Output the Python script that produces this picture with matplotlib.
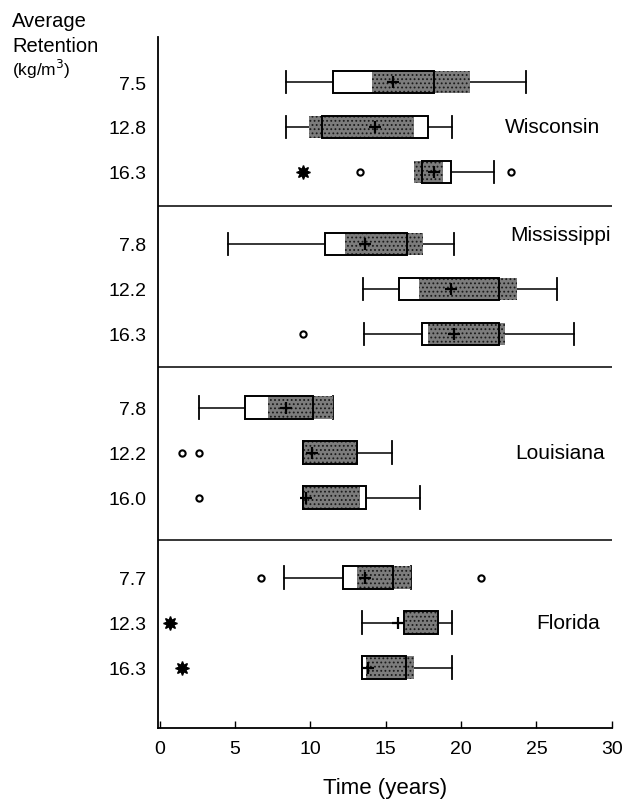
import matplotlib
matplotlib.use("Agg")
import matplotlib.pyplot as plt
from matplotlib.patches import Rectangle

plt.rcParams["font.family"] = ["Liberation Sans", "DejaVu Sans"]
plt.rcParams["hatch.linewidth"] = 0.8

STATES = ["Wisconsin", "Mississippi", "Louisiana", "Florida"]
RETENTION = [
    ["7.5", "12.8", "16.3"],
    ["7.8", "12.2", "16.3"],
    ["7.8", "12.2", "16.0"],
    ["7.7", "12.3", "16.3"],
]

# per row, in plotting order (top to bottom)
WHISK_LO = [8.4, 8.4, 17.4, 4.5, 13.5, 13.55, 2.6, 9.5, 9.5, 8.25, 13.45, 13.45]
Q1 = [11.5, 10.8, 17.4, 11.0, 15.9, 17.4, 5.65, 9.5, 9.5, 12.15, 16.2, 13.45]
Q3 = [18.2, 17.8, 19.3, 16.4, 22.5, 22.5, 10.15, 13.1, 13.7, 15.5, 18.45, 16.35]
WHISK_HI = [24.3, 19.4, 22.2, 19.5, 26.4, 27.5, 11.5, 15.4, 17.3, 16.7, 19.4, 19.4]
SHADE_LO = [14.1, 9.9, 16.9, 12.3, 17.2, 17.8, 7.2, 9.6, 9.6, 13.1, 16.3, 13.7]
SHADE_HI = [20.6, 16.9, 18.8, 17.5, 23.7, 22.9, 11.5, 13.0, 13.3, 16.7, 18.4, 16.9]
MEAN = [15.5, 14.3, 18.2, 13.6, 19.3, 19.5, 8.4, 10.1, 9.7, 13.6, 15.8, 13.85]
OUTLIERS = [[], [], [13.3, 23.3], [], [], [9.5], [], [1.45, 2.6], [2.6], [6.75, 21.3], [], []]
FAR_OUT = [[], [], [9.5], [], [], [], [], [], [], [], [0.65], [1.5]]

GROUP_START = [0.0, 3.6, 7.24, 11.02]
SEPARATORS = [2.76, 6.34, 10.18]
LABEL_X = [26.1, 26.6, 26.6, 27.1]
LABEL_ROW = [1, -0.2, 1, 1]


def main() -> None:
    fig = plt.figure(figsize=(6.26, 8.04), dpi=100)
    ax = fig.add_axes([0.2516, 0.0933, 0.7268, 0.8594])

    ypos = [g + r for g in GROUP_START for r in range(3)]
    labels = [lab for grp in RETENTION for lab in grp]
    h = 0.5

    for i, y in enumerate(ypos):
        ax.plot([WHISK_LO[i], Q1[i]], [y, y], color="black", lw=1.1, zorder=2)
        ax.plot([Q3[i], WHISK_HI[i]], [y, y], color="black", lw=1.1, zorder=2)
        for w in (WHISK_LO[i], WHISK_HI[i]):
            ax.plot([w, w], [y - h / 2, y + h / 2], color="black", lw=1.3, zorder=2)
        ax.add_patch(Rectangle((Q1[i], y - h / 2), Q3[i] - Q1[i], h,
                               facecolor="white", edgecolor="none", zorder=3))
        ax.add_patch(Rectangle((SHADE_LO[i], y - h / 2), SHADE_HI[i] - SHADE_LO[i], h,
                               facecolor="#7c7c7c", edgecolor="#1a1a1a", hatch="....",
                               lw=0, zorder=4))
        ax.add_patch(Rectangle((Q1[i], y - h / 2), Q3[i] - Q1[i], h,
                               facecolor="none", edgecolor="black", lw=1.4, zorder=5))
        ax.plot(MEAN[i], y, marker="+", color="black", ms=8, mew=1.6, zorder=6)
        if OUTLIERS[i]:
            ax.plot(OUTLIERS[i], [y] * len(OUTLIERS[i]), "o", ms=4.5, mfc="white",
                    mec="black", mew=1.5, zorder=6)
        if FAR_OUT[i]:
            ax.plot(FAR_OUT[i], [y] * len(FAR_OUT[i]), marker=(8, 1, 0), ls="none",
                    ms=10, color="black", zorder=6)

    for s in SEPARATORS:
        ax.axhline(s, color="black", lw=1.1)

    for k, name in enumerate(STATES):
        ax.text(LABEL_X[k], GROUP_START[k] + LABEL_ROW[k], name, ha="center",
                va="center", fontsize=15)

    ax.set_xlim(-0.15, 30.05)
    ax.set_ylim(14.36, -1.0)
    ax.set_xticks(range(0, 31, 5))
    ax.set_yticks(ypos)
    ax.set_yticklabels(labels)
    ax.tick_params(axis="y", length=0, pad=8, labelsize=14)
    ax.tick_params(axis="x", direction="in", length=5, width=1, pad=9, labelsize=14)
    ax.spines["top"].set_visible(False)
    ax.spines["right"].set_visible(False)
    ax.spines["left"].set_linewidth(1.3)
    ax.spines["bottom"].set_linewidth(1.3)
    ax.set_xlabel("Time (years)", fontsize=16, labelpad=14)

    fig.text(12 / 626, 1 - 27 / 804, "Average", fontsize=14.5, ha="left", va="baseline")
    fig.text(12 / 626, 1 - 52 / 804, "Retention", fontsize=14.5, ha="left", va="baseline")
    fig.text(12 / 626, 1 - 76 / 804, "(kg/m$^3$)", fontsize=12.5, ha="left", va="baseline")

    fig.savefig("out.png", dpi=100)
    plt.close(fig)


if __name__ == "__main__":
    main()
